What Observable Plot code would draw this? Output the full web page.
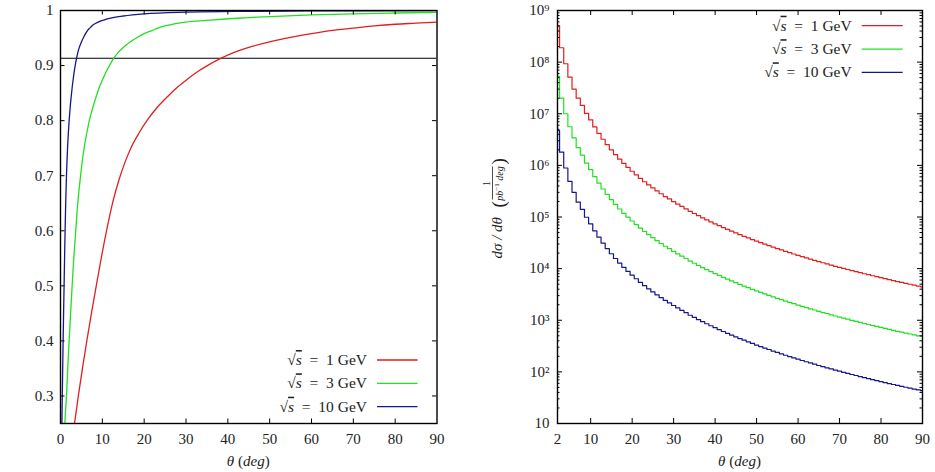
<!DOCTYPE html>
<html>
<head>
<meta charset="utf-8">
<script src="https://cdn.jsdelivr.net/npm/d3@7"></script>
<script src="https://cdn.jsdelivr.net/npm/@observablehq/plot@0.6"></script>
<style>
  body { margin: 0; background: #fff; }
  #wrap { display: flex; width: 935px; height: 472px; }
  svg text { font-family: "Liberation Serif", serif; }
</style>
</head>
<body>
<div id="wrap"></div>
<script>
// Series: centre-of-mass energies (GeV) and their line colours
const energies = [1, 3, 10];
const seriesColors = ["#e31e1e", "#22e022", "#16168c"];

// Left panel: cumulative fraction versus polar angle (deg)
const cutLevel = 0.9133;
const fracTheta1 = [2.5, 3.35, 4.3, 5.3, 6.4, 7.5, 8.6, 9.8, 11.0, 12.5, 14.0, 15.5, 17.0, 18.8, 20.7, 23.0, 25.5, 28.0, 30.3, 33.0, 35.1, 38.3, 41.5, 45, 50, 55, 60, 65, 70, 75, 80, 85, 90];
const fracValue1 = [0.199, 0.25, 0.302, 0.353, 0.405, 0.455, 0.502, 0.553, 0.600, 0.652, 0.693, 0.726, 0.753, 0.778, 0.8005, 0.823, 0.843, 0.861, 0.875, 0.890, 0.900, 0.913, 0.924, 0.933, 0.943, 0.951, 0.958, 0.964, 0.968, 0.972, 0.975, 0.977, 0.979];
const fracTheta3 = [0.8, 1.05, 1.44, 1.75, 2.1, 2.45, 2.8, 3.2, 3.65, 4.15, 4.7, 5.2, 5.7, 6.3, 6.9, 7.7, 8.5, 9.3, 10.1, 11.0, 11.7, 12.7, 13.8, 15, 16.7, 18.3, 20, 22, 23.3, 25, 26.7, 28.3, 30, 35, 40, 45, 50, 60, 70, 80, 90];
const fracValue3 = [0.19, 0.25, 0.302, 0.353, 0.405, 0.455, 0.502, 0.553, 0.600, 0.652, 0.693, 0.726, 0.753, 0.778, 0.8005, 0.823, 0.843, 0.861, 0.875, 0.890, 0.900, 0.913, 0.924, 0.933, 0.943, 0.951, 0.958, 0.964, 0.968, 0.972, 0.975, 0.977, 0.979, 0.982, 0.985, 0.987, 0.989, 0.992, 0.994, 0.9955, 0.9965];
const fracTheta10 = [0.25, 0.335, 0.43, 0.53, 0.64, 0.75, 0.86, 0.98, 1.1, 1.25, 1.4, 1.55, 1.7, 1.88, 2.07, 2.3, 2.55, 2.8, 3.03, 3.3, 3.51, 3.83, 4.15, 4.5, 5.0, 5.5, 6.0, 6.5, 7.0, 7.5, 8.0, 8.5, 9.0, 10.5, 12, 15, 20, 30, 45, 60, 90];
const fracValue10 = [0.199, 0.25, 0.302, 0.353, 0.405, 0.455, 0.502, 0.553, 0.600, 0.652, 0.693, 0.726, 0.753, 0.778, 0.8005, 0.823, 0.843, 0.861, 0.875, 0.890, 0.900, 0.913, 0.924, 0.933, 0.943, 0.951, 0.958, 0.964, 0.968, 0.972, 0.975, 0.977, 0.979, 0.983, 0.986, 0.990, 0.994, 0.997, 0.9985, 0.9992, 0.9997];

// Right panel: dσ/dθ per 1-degree bin, bins at θ = 2 … 90
const histTheta = d3.range(2, 91);
const hist1 = [5.1e8, 1.9e8, 9.3e7, 5.1e7, 3.0e7, 2.0e7, 1.45e7, 1.02e7, 7.6e6, 5.56e6, 4.18e6, 3.21e6, 2.52e6, 2.00e6, 1.62e6, 1.32e6, 1.09e6, 9.14e5, 7.69e5, 6.55e5, 5.60e5, 4.82e5, 4.18e5, 3.65e5, 3.20e5, 2.82e5, 2.49e5, 2.24e5, 1.99e5, 1.78e5, 1.60e5, 1.44e5, 1.29e5, 1.17e5, 1.06e5, 9.66e4, 8.81e4, 8.05e4, 7.38e4, 6.78e4, 6.24e4, 5.75e4, 5.31e4, 4.91e4, 4.55e4, 4.23e4, 3.93e4, 3.66e4, 3.41e4, 3.18e4, 2.98e4, 2.79e4, 2.61e4, 2.45e4, 2.30e4, 2.16e4, 2.04e4, 1.92e4, 1.81e4, 1.71e4, 1.62e4, 1.53e4, 1.45e4, 1.37e4, 1.30e4, 1.24e4, 1.17e4, 1.11e4, 1.06e4, 1.01e4, 9.62e3, 9.16e3, 8.75e3, 8.36e3, 7.96e3, 7.62e3, 7.28e3, 6.97e3, 6.67e3, 6.38e3, 6.12e3, 5.86e3, 5.62e3, 5.40e3, 5.19e3, 4.98e3, 4.79e3, 4.60e3, 4.45e3];
const hist3 = [5.3e7, 2.0e7, 1.0e7, 5.6e6, 3.4e6, 2.2e6, 1.58e6, 1.11e6, 8.26e5, 6.04e5, 4.54e5, 3.49e5, 2.74e5, 2.17e5, 1.76e5, 1.43e5, 1.18e5, 9.93e4, 8.36e4, 7.12e4, 6.09e4, 5.24e4, 4.54e4, 3.97e4, 3.48e4, 3.07e4, 2.71e4, 2.43e4, 2.16e4, 1.93e4, 1.74e4, 1.57e4, 1.40e4, 1.27e4, 1.15e4, 1.05e4, 9.58e3, 8.75e3, 8.02e3, 7.37e3, 6.78e3, 6.25e3, 5.77e3, 5.34e3, 4.95e3, 4.60e3, 4.27e3, 3.98e3, 3.71e3, 3.46e3, 3.24e3, 3.03e3, 2.84e3, 2.66e3, 2.50e3, 2.35e3, 2.22e3, 2.09e3, 1.97e3, 1.86e3, 1.76e3, 1.66e3, 1.58e3, 1.49e3, 1.41e3, 1.35e3, 1.27e3, 1.21e3, 1.15e3, 1.10e3, 1.05e3, 996, 951, 909, 865, 828, 791, 758, 725, 693, 665, 637, 611, 587, 564, 541, 521, 500, 484];
const hist10 = [4.7e6, 1.8e6, 8.9e5, 4.9e5, 3.0e5, 1.94e5, 1.41e5, 9.9e4, 7.38e4, 5.40e4, 4.06e4, 3.12e4, 2.45e4, 1.94e4, 1.57e4, 1.28e4, 1.06e4, 8.87e3, 7.47e3, 6.36e3, 5.44e3, 4.68e3, 4.06e3, 3.54e3, 3.11e3, 2.74e3, 2.42e3, 2.17e3, 1.93e3, 1.73e3, 1.55e3, 1.40e3, 1.25e3, 1.14e3, 1.03e3, 938, 855, 782, 717, 658, 606, 558, 516, 477, 442, 411, 382, 355, 331, 309, 289, 271, 253, 238, 223, 210, 198, 186, 176, 166, 157, 149, 141, 133, 126, 120, 114, 108, 103, 98, 93.4, 88.9, 85.0, 81.2, 77.3, 74.0, 70.7, 67.7, 64.8, 61.9, 59.4, 56.9, 54.6, 52.4, 50.4, 48.3, 46.5, 44.7, 43.2];

// Tick positions and labels
const leftXTicks = [0, 10, 20, 30, 40, 50, 60, 70, 80, 90];
const leftYTicks = [0.3, 0.4, 0.5, 0.6, 0.7, 0.8, 0.9, 1];
const rightXTicks = [2, 10, 20, 30, 40, 50, 60, 70, 80, 90];
const rightYMajor = [10, 1e2, 1e3, 1e4, 1e5, 1e6, 1e7, 1e8, 1e9];
const rightYMinor = rightYMajor.slice(0, -1).flatMap(p => [2, 3, 4, 5, 6, 7, 8, 9].map(m => m * p));
const supDigits = {"0": "⁰", "1": "¹", "2": "²", "3": "³", "4": "⁴", "5": "⁵", "6": "⁶", "7": "⁷", "8": "⁸", "9": "⁹"};
const powerLabel = v => {
  const e = Math.round(Math.log10(v));
  return e === 1 ? "10" : "10" + String(e).split("").map(c => supDigits[c]).join("");
};

// Build tidy rows for Plot
const seriesName = e => `${e} GeV`;
const fracRows = [
  [fracTheta1, fracValue1], [fracTheta3, fracValue3], [fracTheta10, fracValue10]
].flatMap(([t, v], i) => t.map((th, j) => ({series: seriesName(energies[i]), theta: th, frac: v[j]})));
const histRows = [hist1, hist3, hist10]
  .flatMap((vals, i) => vals.map((v, j) => ({series: seriesName(energies[i]), theta: histTheta[j], value: v})));

const H = 472, MT = 10, MB = 49;
const plotH = H - MT - MB;
const color = {domain: energies.map(seriesName), range: seriesColors};
const baseStyle = {fontFamily: "'Liberation Serif', serif", fontSize: "15px", background: "#fff", color: "#222", overflow: "visible"};

// Inward ticks on all four sides of a frame
function frameTicks(xTicks, yTicks, plotW, len, strokeWidth = 1) {
  return [
    Plot.ruleX(xTicks, {x: d => d, insetTop: plotH - len, stroke: "#000", strokeWidth}),
    Plot.ruleX(xTicks, {x: d => d, insetBottom: plotH - len, stroke: "#000", strokeWidth}),
    Plot.ruleY(yTicks, {y: d => d, insetRight: plotW - len, stroke: "#000", strokeWidth}),
    Plot.ruleY(yTicks, {y: d => d, insetLeft: plotW - len, stroke: "#000", strokeWidth})
  ];
}

// ---- Left panel ----
const W1 = 467, ML1 = 60, MR1 = 30.5;
const left = Plot.plot({
  width: W1, height: H,
  marginLeft: ML1, marginRight: MR1, marginTop: MT, marginBottom: MB,
  x: {domain: [0, 90]},
  y: {domain: [0.25, 1]},
  color,
  style: baseStyle,
  marks: [
    Plot.ruleY([cutLevel], {stroke: "#000", strokeWidth: 1.1}),
    Plot.line(fracRows, {x: "theta", y: "frac", z: "series", stroke: "series", curve: "monotone-x", strokeWidth: 1.3, clip: true}),
    ...frameTicks(leftXTicks.slice(1, -1), leftYTicks.slice(0, -1), W1 - ML1 - MR1, 4.5),
    Plot.frame({stroke: "#000", strokeWidth: 1.4}),
    Plot.axisX({ticks: leftXTicks, tickSize: 0, tickPadding: 10, label: null, fontSize: 15}),
    Plot.axisY({ticks: leftYTicks, tickSize: 0, tickPadding: 7, label: null, fontSize: 15,
                tickFormat: d => d === 1 ? "1" : d.toFixed(1)})
  ]
});

// ---- Right panel ----
const W2 = 468, ML2 = 90, MR2 = 13;
const right = Plot.plot({
  width: W2, height: H,
  marginLeft: ML2, marginRight: MR2, marginTop: MT, marginBottom: MB,
  x: {domain: [2, 90]},
  y: {type: "log", domain: [10, 1e9]},
  color,
  style: baseStyle,
  marks: [
    Plot.line(histRows, {x: "theta", y: "value", z: "series", stroke: "series", curve: "step", strokeWidth: 1.2, clip: true}),
    ...frameTicks(rightXTicks.slice(1, -1), rightYMajor.slice(1, -1), W2 - ML2 - MR2, 5),
    ...frameTicks([], rightYMinor, W2 - ML2 - MR2, 2.5),
    Plot.frame({stroke: "#000", strokeWidth: 1.4}),
    Plot.axisX({ticks: rightXTicks, tickSize: 0, tickPadding: 10, label: null, fontSize: 15}),
    Plot.axisY({ticks: rightYMajor, tickSize: 0, tickPadding: 8, label: null, fontSize: 15, tickFormat: powerLabel})
  ]
});

const wrap = document.getElementById("wrap");
wrap.append(left, right);

// Axis titles, legends and the y title drawn in frame coordinates
function xTitle(plot) {
  const xr = plot.scale("x").range;
  const t = d3.select(plot).append("text")
    .attr("x", (xr[0] + xr[1]) / 2).attr("y", H - 6)
    .attr("text-anchor", "middle").attr("font-size", 15).attr("fill", "#222");
  t.append("tspan").attr("font-style", "italic").text("θ");
  t.append("tspan").text(" (");
  t.append("tspan").attr("font-style", "italic").text("deg");
  t.append("tspan").text(")");
}
xTitle(left);
xTitle(right);

function legend(plot, rowYs, textEndFromRight, lineFromRight, lineToRight) {
  const xr = plot.scale("x").range;
  const g = d3.select(plot).append("g");
  energies.forEach((e, i) => {
    const y = rowYs[i];
    const t = g.append("text")
      .attr("x", xr[1] - textEndFromRight).attr("y", y + 5)
      .attr("text-anchor", "end").attr("font-size", 15.5).attr("fill", "#222");
    t.append("tspan").text("√");
    t.append("tspan").attr("font-style", "italic").style("text-decoration", "overline").text("s");
    t.append("tspan").text(`\u2002=\u2002${e} GeV`);
    g.append("line")
      .attr("x1", xr[1] - lineFromRight).attr("x2", xr[1] - lineToRight)
      .attr("y1", y).attr("y2", y)
      .attr("stroke", seriesColors[i]).attr("stroke-width", 1.3);
  });
}
{
  const yrL = left.scale("y").range; // [bottom, top]
  legend(left, [yrL[0] - 63, yrL[0] - 39.7, yrL[0] - 16.3], 69.5, 59.5, 19);
  const yrR = right.scale("y").range;
  legend(right, [yrR[1] + 15.7, yrR[1] + 39.2, yrR[1] + 62.3], 70.3, 60.3, 19.3);
}

// Rotated y title with a stacked fraction for the units
{
  const yr = right.scale("y").range;
  const cy = (yr[0] + yr[1]) / 2;
  const g = d3.select(right).append("g")
    .attr("transform", `translate(${ML2 - 55},${cy + 42}) rotate(-90)`)
    .attr("fill", "#222");
  g.append("text").attr("x", 0).attr("y", 0).attr("text-anchor", "start")
    .attr("font-size", 15).attr("font-style", "italic").text("dσ / dθ");
  g.append("text").attr("x", 51).attr("y", 3).attr("text-anchor", "start").attr("font-size", 19).text("(");
  g.append("text").attr("x", 75).attr("y", -12).attr("font-size", 10).attr("text-anchor", "middle").text("1");
  g.append("line").attr("x1", 59).attr("x2", 92).attr("y1", -9.5).attr("y2", -9.5).attr("stroke", "#222").attr("stroke-width", 0.8);
  const den = g.append("text").attr("x", 75).attr("y", 1).attr("font-size", 10).attr("text-anchor", "middle").attr("font-style", "italic");
  den.append("tspan").text("pb");
  den.append("tspan").attr("font-style", "normal").attr("font-size", 7).attr("dy", -4).text("−1");
  den.append("tspan").attr("dy", 4).text(" deg");
  g.append("text").attr("x", 94).attr("y", 3).attr("text-anchor", "start").attr("font-size", 19).text(")");
}
</script>
</body>
</html>
